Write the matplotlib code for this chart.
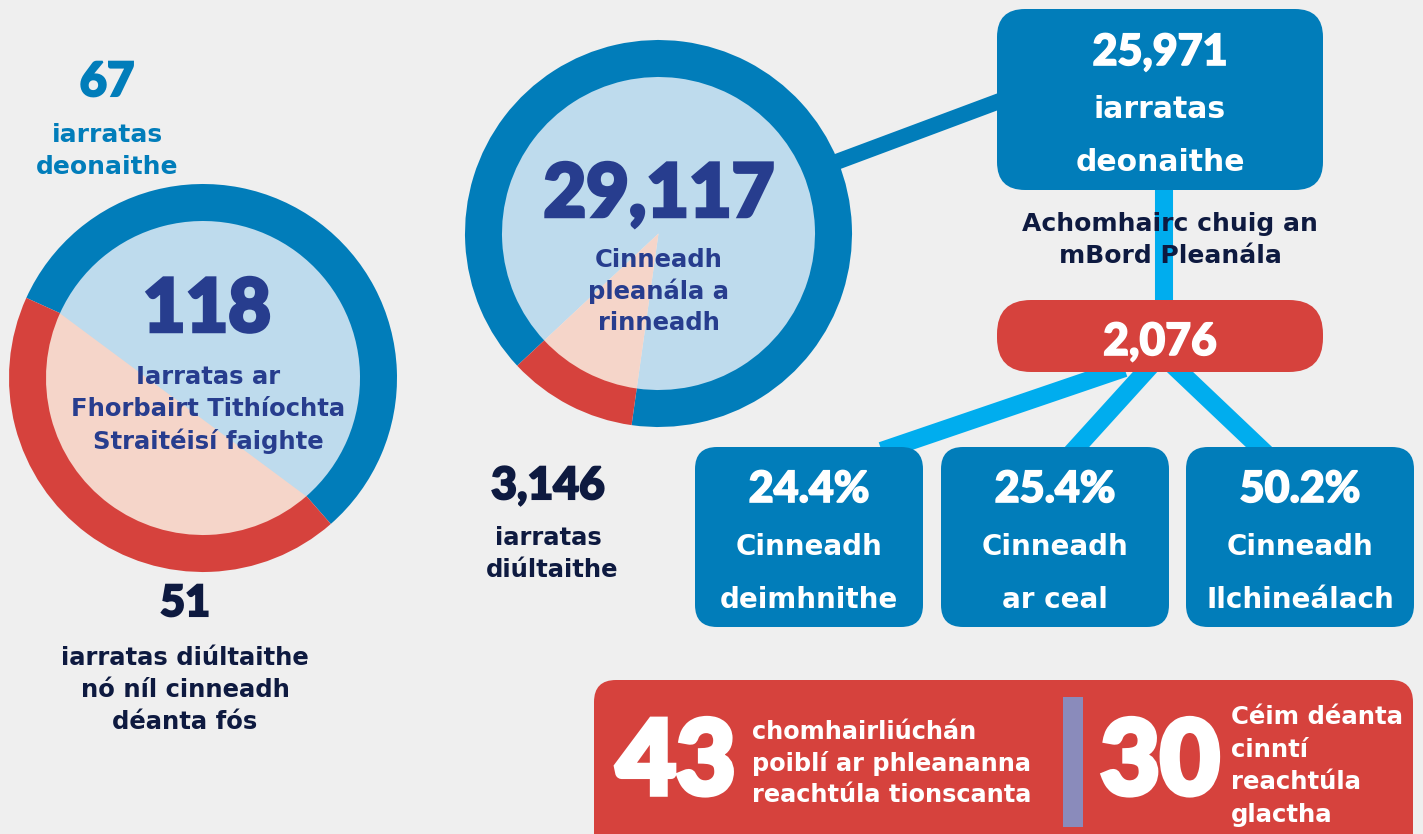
import numpy as np
import matplotlib.pyplot as plt
import matplotlib.patheffects as pe
from matplotlib.patches import FancyBboxPatch, Polygon, Circle, Rectangle

W, H = 1423, 834

# chart data
left_values = [67, 51]          # strategic housing: granted, refused / not yet decided
mid_values = [25971, 3146]      # planning decisions: granted, refused
appeals = 2076
appeal_pct = [24.4, 25.4, 50.2]
appeal_labels = [['Cinneadh', 'deimhnithe'], ['Cinneadh', 'ar ceal'], ['Cinneadh', 'Ilchineálach']]
consultations = 43
decisions = 30

left_granted_txt = ['iarratas', 'deonaithe']
left_total_txt = ['Iarratas ar', 'Fhorbairt Tithíochta', 'Straitéisí faighte']
left_refused_txt = ['iarratas diúltaithe', 'nó níl cinneadh', 'déanta fós']
mid_total_txt = ['Cinneadh', 'pleanála a', 'rinneadh']
mid_refused_txt = ['iarratas', 'diúltaithe']
granted_box_txt = ['iarratas', 'deonaithe']
appeal_txt = ['Achomhairc chuig an', 'mBord Pleanála']
consult_txt = ['chomhairliúchán', 'poiblí ar phleananna', 'reachtúla tionscanta']
decision_txt = ['Céim déanta', 'cinntí', 'reachtúla', 'glactha']

# colours
BG = '#efefef'
BLUE = '#017dba'
LIGHT_BLUE = '#bedbed'
RED = '#d6423d'
PINK = '#f5d5c9'
NAVY = '#273d8e'
DARK = '#0e1a40'
CYAN = '#00adee'
DIVIDER = '#8a8bbb'

TXT = 'DejaVu Sans'
NUM = 'Lato'


def Y(y):
    # pixel rows from the top -> data y
    return H - y


fig = plt.figure(figsize=(W / 100, H / 100), dpi=100)
fig.patch.set_facecolor(BG)
ax = fig.add_axes([0, 0, 1, 1])
ax.set_facecolor(BG)


def label(x, y, s, size, color, family=TXT, weight='bold', ha='center', z=6, heavy=0):
    t = ax.text(x, Y(y), s, fontsize=size, color=color, family=family, fontweight=weight,
                ha=ha, va='center', zorder=z)
    if heavy:
        # thicken the big numbers a little
        t.set_path_effects([pe.withStroke(linewidth=heavy, foreground=color, joinstyle='miter')])


def rbox(x0, y0, x1, y1, color, r, z=4):
    ax.add_patch(FancyBboxPatch((x0, Y(y1)), x1 - x0, y1 - y0,
                                boxstyle=f'round,pad=0,rounding_size={r}',
                                fc=color, ec='none', zorder=z))


def link(x0, y0, x1, y1, color, lw, ext=12):
    d = np.array([x1 - x0, y1 - y0], float)
    d /= np.hypot(*d)
    ax.plot([x0 - d[0] * ext, x1 + d[0] * ext], [Y(y0 - d[1] * ext), Y(y1 + d[1] * ext)],
            color=color, lw=lw, solid_capstyle='butt', zorder=1)


# ---- left donut: strategic housing applications
lc = (203, Y(378))
l_start = -48.8
ax.pie(left_values, radius=194, center=lc, startangle=l_start, colors=[BLUE, RED],
       wedgeprops=dict(width=37, linewidth=0, zorder=3), frame=True)
ax.add_patch(Circle(lc, 158, fc=LIGHT_BLUE, ec='none', zorder=2))
a0 = l_start + 360 * left_values[0] / sum(left_values)
ang = np.radians(np.linspace(a0, l_start + 360, 100))
seg = np.column_stack([lc[0] + 158 * np.cos(ang), lc[1] + 158 * np.sin(ang)])
ax.add_patch(Polygon(seg, closed=True, fc=PINK, ec='none', zorder=2.5))

label(107, 82, f'{left_values[0]}', 34, BLUE, NUM, 'black', heavy=1.5)
for i, s in enumerate(left_granted_txt):
    label(107, 135 + 32 * i, s, 18, BLUE)
label(207, 310, f'{sum(left_values)}', 53, NAVY, NUM, 'black', heavy=2.5)
for i, s in enumerate(left_total_txt):
    label(208, 377 + 32 * i, s, 17.5, NAVY)
label(185, 603, f'{left_values[1]}', 31, DARK, NUM, 'black', heavy=1.5)
for i, s in enumerate(left_refused_txt):
    label(185, 658 + 32 * i, s, 17.5, DARK)

# ---- middle donut: planning decisions
mc = (658.5, Y(233.5))
m_start = -98
ax.pie(mid_values, radius=193.5, center=mc, startangle=m_start, colors=[BLUE, RED],
       wedgeprops=dict(width=37, linewidth=0, zorder=3), frame=True)
ax.pie(mid_values, radius=158, center=mc, startangle=m_start, colors=[LIGHT_BLUE, PINK],
       wedgeprops=dict(linewidth=0, zorder=2), frame=True)

label(659, 195, f'{sum(mid_values):,}', 53, NAVY, NUM, 'black', heavy=2.5)
for i, s in enumerate(mid_total_txt):
    label(659, 260 + 31.5 * i, s, 17.5, NAVY)
label(548, 486, f'{mid_values[1]:,}', 32, DARK, NUM, 'black', heavy=1.5)
for i, s in enumerate(mid_refused_txt):
    label(548 + 4 * i, 538 + 32 * i, s, 17.5, DARK)

# ---- flow on the right
link(839, 161, 997, 102, BLUE, 11.5)
rbox(997, 9, 1323, 190, BLUE, 28)
label(1160, 52, f'{mid_values[0]:,}', 31, 'white', NUM, 'black', heavy=1.2)
for i, s in enumerate(granted_box_txt):
    label(1160, 109 + 53 * i, s, 21.5, 'white')

ax.plot([1164, 1164], [Y(180), Y(310)], color=CYAN, lw=13, solid_capstyle='butt', zorder=1)
for i, s in enumerate(appeal_txt):
    label(1170, 224 + 32 * i, s, 18, DARK)

rbox(997, 300, 1323, 372, RED, 34)
label(1160, 342, f'{appeals:,}', 32, 'white', NUM, 'black', heavy=1.2)

link(1113, 372, 893, 447, CYAN, 13)
link(1145, 372, 1077, 447, CYAN, 13)
link(1180, 372, 1259, 447, CYAN, 13)

box_x = [(695, 923), (941, 1169), (1186, 1414)]
for (x0, x1), pct, lines in zip(box_x, appeal_pct, appeal_labels):
    cx = (x0 + x1) / 2
    rbox(x0, 447, x1, 627, BLUE, 22)
    label(cx, 489, f'{pct:.1f}%', 31, 'white', NUM, 'black', heavy=1.2)
    label(cx, 547, lines[0], 20, 'white')
    label(cx, 600, lines[1], 20, 'white')

# ---- bottom red panel
rbox(594, 680, 1413, 880, RED, 22)
label(676, 764, f'{consultations}', 74, 'white', NUM, 'black', heavy=4)
for i, s in enumerate(consult_txt):
    label(752, 732 + 31.5 * i, s, 17.3, 'white', ha='left')
ax.add_patch(Rectangle((1063, Y(827)), 20, 130, fc=DIVIDER, ec='none', zorder=5))
label(1160, 764, f'{decisions}', 74, 'white', NUM, 'black', heavy=4)
for i, s in enumerate(decision_txt):
    label(1231, 717 + 32.7 * i, s, 17.6, 'white', ha='left')

ax.set_xlim(0, W)
ax.set_ylim(0, H)
ax.set_aspect('equal')
ax.axis('off')
fig.savefig('out.png', dpi=100, facecolor=BG)
